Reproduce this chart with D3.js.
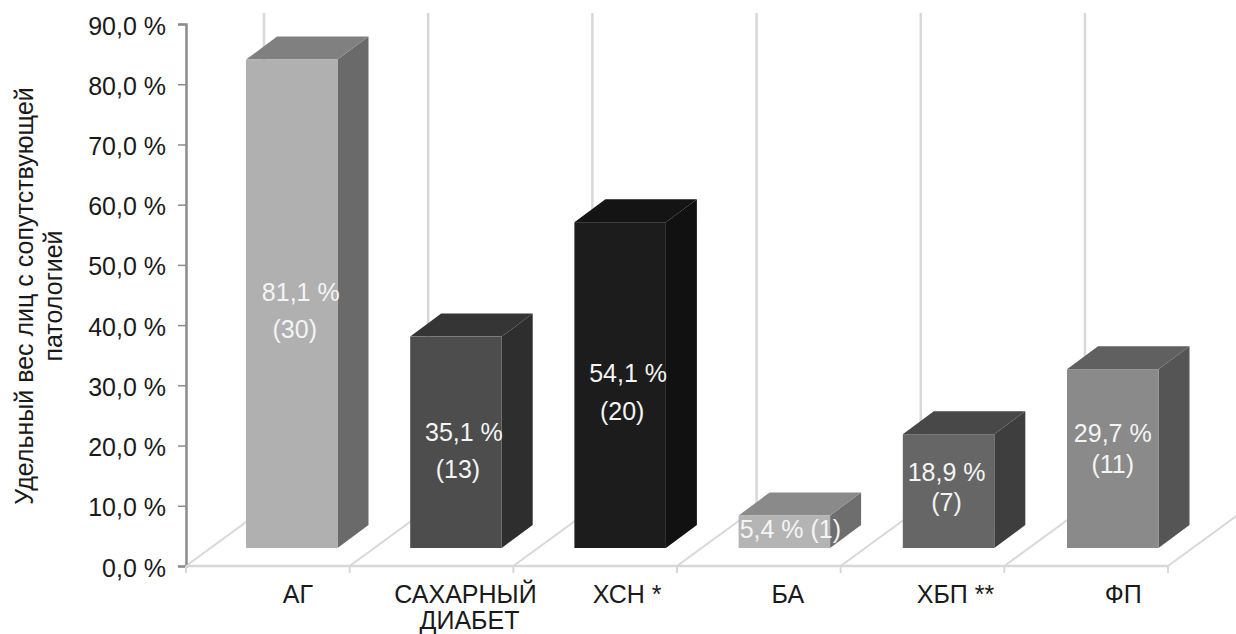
<!DOCTYPE html>
<html>
<head>
<meta charset="utf-8">
<script src="https://cdn.jsdelivr.net/npm/d3@7"></script>
<style>
html, body { margin: 0; padding: 0; background: #fff; }
svg { display: block; }
text { font-family: "Liberation Sans", Arial, sans-serif; }
</style>
</head>
<body>
<svg id="chart" width="1236" height="634"></svg>
<script>
// Data ------------------------------------------------------------------------------------

const categories = ["АГ", "САХАРНЫЙ ДИАБЕТ", "ХСН *", "БА", "ХБП **", "ФП"];
const percents = [81.1, 35.1, 54.1, 5.4, 18.9, 29.7];
const counts = [30, 13, 20, 1, 7, 11];
const yTicks = [0, 10, 20, 30, 40, 50, 60, 70, 80, 90];
const yTitle = ["Удельный вес лиц с сопутствующей", "патологией"];

// Colours: front, top, side
const frontColors = ["#b0b0b0", "#4d4d4d", "#1c1c1c", "#b4b4b4", "#666666", "#8a8a8a"];
const topColors = ["#808080", "#353535", "#141414", "#8a8a8a", "#484848", "#606060"];
const sideColors = ["#6a6a6a", "#2e2e2e", "#111111", "#6e6e6e", "#3e3e3e", "#555555"];

// Layout ----------------------------------------------------------------------------------

const svg = d3.select("#chart");
const floorY = 566, topY = 24, leftX = 186, rightX = 1168;
const wallDx = 78, wallDy = 57;       // floor diagonal
const barDx = 31, barDy = 23;         // bar depth
const barInsetY = 18;                 // bar front stands above the axis plane
const barWidth = 91.5;
const fontSize = 25;

const y = d3.scaleLinear().domain([0, 90]).range([floorY, topY]);
const x = d3.scaleBand().domain(categories).range([leftX, rightX]);
// the bars and the back wall run a little wider than the floor
const barX = d3.scaleBand().domain(categories).range([246, 246 + 6 * 164.2]);
const edges = categories.map(c => x(c)).concat([rightX]);

// Walls and floor -------------------------------------------------------------------------

const gridColor = "#d8d8d8";

svg.append("g").selectAll("line").data(categories).enter().append("line")
    .attr("x1", d => barX(d) + 18).attr("x2", d => barX(d) + 18)
    .attr("y1", floorY - wallDy).attr("y2", 13)
    .attr("stroke", gridColor).attr("stroke-width", 2.5);

svg.append("g").selectAll("line").data(edges).enter().append("line")
    .attr("x1", d => d).attr("y1", floorY)
    .attr("x2", d => d + wallDx).attr("y2", floorY - wallDy)
    .attr("stroke", gridColor).attr("stroke-width", 2);

// Bars ------------------------------------------------------------------------------------

const bars = svg.append("g").selectAll("g").data(categories).enter().append("g");

function poly(points) { return d3.line()(points) + "Z"; }

bars.append("path") // side
    .attr("fill", (d, i) => sideColors[i])
    .attr("d", (d, i) => {
        const r = barX(d) + barWidth, b = floorY - barInsetY, t = y(percents[i]) - barInsetY;
        return poly([[r, b], [r + barDx, b - barDy], [r + barDx, t - barDy], [r, t]]);
    });

bars.append("path") // top
    .attr("fill", (d, i) => topColors[i])
    .attr("d", (d, i) => {
        const l = barX(d), t = y(percents[i]) - barInsetY;
        return poly([[l, t], [l + barDx, t - barDy], [l + barWidth + barDx, t - barDy], [l + barWidth, t]]);
    });

bars.append("rect") // front
    .attr("fill", (d, i) => frontColors[i])
    .attr("x", d => barX(d))
    .attr("width", barWidth)
    .attr("y", (d, i) => y(percents[i]) - barInsetY)
    .attr("height", (d, i) => floorY - y(percents[i]));

// Axes ------------------------------------------------------------------------------------

const fmtPercent = v => d3.format(".1f")(v).replace(".", ",") + " %";

const yAxis = svg.append("g")
    .attr("transform", "translate(" + leftX + ",0)")
    .call(d3.axisLeft(y).tickValues(yTicks).tickSize(8).tickPadding(12).tickFormat(fmtPercent));
yAxis.selectAll("path, line").attr("stroke", "#8c8c8c");
yAxis.select("path").attr("stroke-width", 2.5);
yAxis.selectAll("line").attr("stroke-width", 1.5);
yAxis.selectAll("text").attr("font-size", fontSize).attr("fill", "#1a1a1a").attr("dy", "0.4em")
    .style("font-family", '"Liberation Sans", Arial, sans-serif');

svg.append("line")
    .attr("x1", leftX).attr("x2", rightX).attr("y1", floorY).attr("y2", floorY)
    .attr("stroke", gridColor).attr("stroke-width", 2.5);

svg.append("g").selectAll("line").data(edges).enter().append("line")
    .attr("x1", d => d).attr("x2", d => d)
    .attr("y1", floorY).attr("y2", floorY + 7)
    .attr("stroke", gridColor).attr("stroke-width", 2);

// Category labels, long ones wrap on the space
const catDx = [30, 34, 32, 29, 33, 37];
const catLabels = svg.append("g").selectAll("text").data(categories).enter().append("text")
    .attr("text-anchor", "middle").attr("font-size", fontSize).attr("fill", "#1a1a1a")
    .attr("y", 602.5);
catLabels.each(function (d, i) {
    const parts = d.includes("*") ? [d] : d.split(" ");
    const cx = x(d) + x.bandwidth() / 2 + catDx[i];
    d3.select(this).selectAll("tspan").data(parts).enter().append("tspan")
        .attr("x", (p, j) => cx + j * 4).attr("dy", (p, j) => j ? 26 : 0).text(p => p);
});

// Axis title
svg.append("g").selectAll("text").data(yTitle).enter().append("text")
    .attr("transform", (d, i) => "translate(" + (33 + i * 29) + ",296) rotate(-90)")
    .attr("text-anchor", "middle").attr("font-size", fontSize).attr("fill", "#1a1a1a")
    .text(d => d);

// Value labels ----------------------------------------------------------------------------

const labelGap = [37, 37, 38, 0, 30, 31];     // line spacing inside a bar
const labelDy = [7, 8, 7, -3, -4, -10];       // nudge from the middle of the bar
const labelDx1 = [9, 8, 8, 6, -2, 0];         // first line
const labelDx2 = [3, 2, 2, 0, -2, 0];         // second line

bars.each(function (d, i) {
    const g = d3.select(this);
    const cx = barX(d) + barWidth / 2;
    const cy = (y(percents[i]) + floorY) / 2 - barInsetY + labelDy[i];
    const gap = labelGap[i];
    const lines = gap ? [fmtPercent(percents[i]), "(" + counts[i] + ")"]
                      : [fmtPercent(percents[i]) + " (" + counts[i] + ")"];
    g.selectAll("text").data(lines).enter().append("text")
        .attr("x", (t, j) => cx + (j ? labelDx2[i] : labelDx1[i]))
        .attr("y", (t, j) => cy + 9 + (j - (lines.length - 1) / 2) * gap)
        .attr("text-anchor", "middle").attr("font-size", fontSize).attr("fill", "#f4f4f4")
        .text(t => t);
});
</script>
</body>
</html>
